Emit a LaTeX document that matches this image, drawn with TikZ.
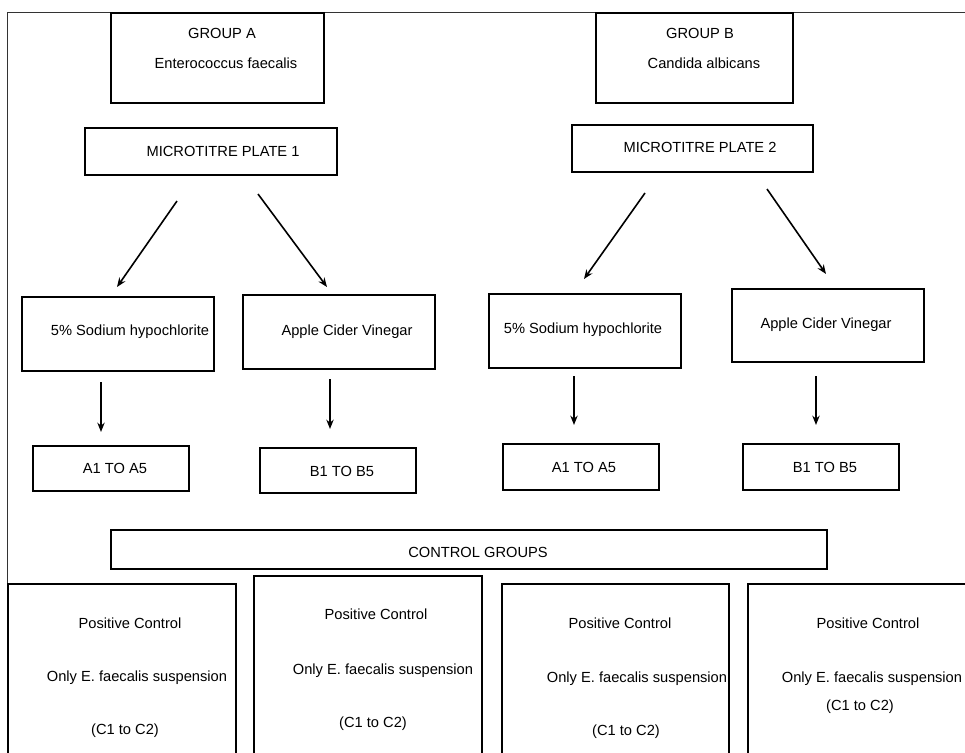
\documentclass[tikz,border=0pt]{standalone}
\usepackage{fontspec}
\setmainfont{Liberation Sans}
\usetikzlibrary{arrows.meta,positioning}

\newdimen\px
\px=0.75pt

\tikzset{
  box/.style={rectangle,draw,line width=1.1pt,inner sep=0pt},
  txt/.style={inner sep=0pt,anchor=base,yshift=-3.9pt,font=\fontsize{11}{13}\selectfont},
  flow/.style={-{Stealth[length=7pt,width=5.5pt]},line width=1.2pt}
}

\begin{document}
\begin{tikzpicture}[x=0.75pt,y=-0.75pt]
\useasboundingbox (0,0) rectangle (965,753);
\clip (0,0) rectangle (965,753);

% outer frame
\coordinate (frame_tr) at (965,12);
\coordinate (frame_tl) at (7,12);
\coordinate (frame_bl) at (7,584);
\draw[line width=0.7pt,black!80] (frame_tr) -- (frame_tl) -- (frame_bl);

% group boxes
\node[box,minimum width=213\px,minimum height=90\px,name=grpA] at (217.5,58) {};
\node[txt,name=grpA_title] at (222,33) {GROUP A};
\node[txt,name=grpA_org] at (226,63) {Enterococcus faecalis};

\node[box,minimum width=197\px,minimum height=90\px,name=grpB] at (694.5,58) {};
\node[txt,name=grpB_title] at (700,33) {GROUP B};
\node[txt,name=grpB_org] at (704,63) {Candida albicans};

% microtitre plates
\node[box,minimum width=252\px,minimum height=47\px,name=plate1] at (211,151.5) {};
\node[txt,name=plate1_lbl] at (223,151) {MICROTITRE PLATE 1};

\node[box,minimum width=241\px,minimum height=47\px,name=plate2] at (692.5,148.5) {};
\node[txt,name=plate2_lbl] at (700,147) {MICROTITRE PLATE 2};

% irrigants
\node[box,minimum width=192\px,minimum height=74\px,name=naoclA] at (118,334) {};
\node[txt,name=naoclA_lbl] at (130,330) {5\% Sodium hypochlorite};
\node[box,minimum width=192\px,minimum height=74\px,name=acvA] at (339,332) {};
\node[txt,name=acvA_lbl] at (347,330) {Apple Cider Vinegar};

\node[box,minimum width=192\px,minimum height=74\px,name=naoclB] at (585,331) {};
\node[txt,name=naoclB_lbl] at (583,328) {5\% Sodium hypochlorite};
\node[box,minimum width=192\px,minimum height=73\px,name=acvB] at (828,325.5) {};
\node[txt,name=acvB_lbl] at (826,323) {Apple Cider Vinegar};

% wells
\node[box,minimum width=156\px,minimum height=45\px,name=wellsA1] at (111,468.5) {};
\node[txt,name=wellsA1_lbl] at (115,468) {A1 TO A5};
\node[box,minimum width=156\px,minimum height=45\px,name=wellsB1] at (338,470.5) {};
\node[txt,name=wellsB1_lbl] at (342,471) {B1 TO B5};
\node[box,minimum width=156\px,minimum height=46\px,name=wellsA2] at (581,467) {};
\node[txt,name=wellsA2_lbl] at (584,467) {A1 TO A5};
\node[box,minimum width=156\px,minimum height=46\px,name=wellsB2] at (821,467) {};
\node[txt,name=wellsB2_lbl] at (825,467) {B1 TO B5};

% control groups
\node[box,minimum width=716\px,minimum height=39\px,name=control] at (469,549.5) {};
\node[txt,name=control_lbl] at (478,552) {CONTROL GROUPS};

\node[box,minimum width=228\px,minimum height=200\px,name=pos1] at (122,684) {};
\node[txt,name=pos1_a] at (130,623) {Positive Control};
\node[txt,name=pos1_b] at (137,676) {Only E. faecalis suspension};
\node[txt,name=pos1_c] at (125,729) {(C1 to C2)};

\node[box,minimum width=228\px,minimum height=200\px,name=pos2] at (368,676) {};
\node[txt,name=pos2_a] at (376,614) {Positive Control};
\node[txt,name=pos2_b] at (383,669) {Only E. faecalis suspension};
\node[txt,name=pos2_c] at (373,722) {(C1 to C2)};

\node[box,minimum width=227\px,minimum height=200\px,name=pos3] at (615.5,684) {};
\node[txt,name=pos3_a] at (620,623) {Positive Control};
\node[txt,name=pos3_b] at (637,677) {Only E. faecalis suspension};
\node[txt,name=pos3_c] at (626,730) {(C1 to C2)};

\node[box,minimum width=240\px,minimum height=200\px,name=pos4] at (868,684) {};
\node[txt,name=pos4_a] at (868,623) {Positive Control};
\node[txt,name=pos4_b] at (872,677) {Only E. faecalis suspension};
\node[txt,name=pos4_c] at (860,705) {(C1 to C2)};

% arrow ends
\coordinate (p1l_s) at (177,201);  \coordinate (p1l_e) at (117,287);
\coordinate (p1r_s) at (258,194);  \coordinate (p1r_e) at (327,287);
\coordinate (p2l_s) at (645,193);  \coordinate (p2l_e) at (584,279);
\coordinate (p2r_s) at (767,189);  \coordinate (p2r_e) at (826,274);
\coordinate (nA_s) at (101,382);   \coordinate (nA_e) at (101,432);
\coordinate (aA_s) at (330,379);   \coordinate (aA_e) at (330,429);
\coordinate (nB_s) at (574,376);   \coordinate (nB_e) at (574,425);
\coordinate (aB_s) at (816,376);   \coordinate (aB_e) at (816,425);

% arrows
\draw[flow] (p1l_s) -- (p1l_e);
\draw[flow] (p1r_s) -- (p1r_e);
\draw[flow] (p2l_s) -- (p2l_e);
\draw[flow] (p2r_s) -- (p2r_e);
\draw[flow] (nA_s) -- (nA_e);
\draw[flow] (aA_s) -- (aA_e);
\draw[flow] (nB_s) -- (nB_e);
\draw[flow] (aB_s) -- (aB_e);
\end{tikzpicture}
\end{document}
